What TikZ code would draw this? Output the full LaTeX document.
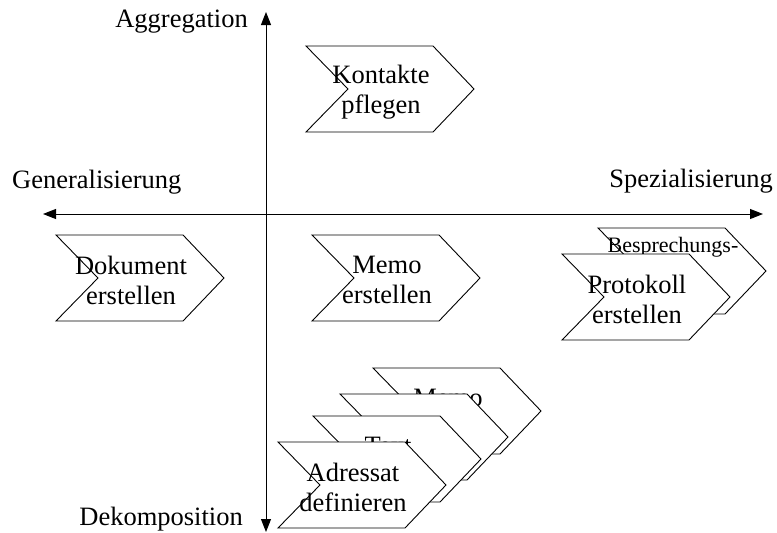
\documentclass[tikz,border=0pt]{standalone}
\usepackage{fontspec}
\setmainfont{Liberation Serif}
\usetikzlibrary{arrows.meta,calc}

\tikzset{
  axisline/.style={line width=1pt, {Triangle[length=13pt,width=10pt]}-{Triangle[length=13pt,width=10pt]}},
  chev/.style={draw, fill=white, line width=0.9pt, line join=miter},
  lbl/.style={inner sep=0pt, align=center, font=\fontsize{26.5}{30}\selectfont},
  smalllbl/.style={inner sep=0pt, align=center, font=\fontsize{22}{25}\selectfont},
  axlbl/.style={inner sep=0pt, font=\fontsize{26.5}{30}\selectfont},
}

% chevron with its top-left corner at (#2,#3); the corner is kept as coordinate #1
\newcommand\chevron[3]{%
  \draw[chev] (#2,#3) coordinate (#1) -- ++(127,0) -- ++(41,43) -- ++(-41,43)
    -- ++(-127,0) -- ++(42,-43) -- cycle;}

\begin{document}
\begin{tikzpicture}[x=1pt,y=-1pt]
  \useasboundingbox (0,0) rectangle (777,533);

  % axes
  \coordinate (vtop) at (266,12);
  \coordinate (vbot) at (266,532);
  \coordinate (hleft) at (43,214);
  \coordinate (hright) at (763,214);
  \draw[axisline] (vbot) -- (vtop);
  \draw[axisline] (hleft) -- (hright);

  \node[axlbl, anchor=base east] (agg) at (248,27) {Aggregation};
  \node[axlbl, anchor=base west] (gen) at (12,188) {Generalisierung};
  \node[axlbl, anchor=base east] (spe) at (773,187) {Spezialisierung};
  \node[axlbl, anchor=base east] (dek) at (243,525) {Dekomposition};

  % aggregation
  \chevron{kp}{306}{46}
  \node[lbl] (kp-t) at ($(kp)+(75,46)$) {Kontakte\\pflegen};

  % generalisation
  \chevron{de}{56}{235}
  \node[lbl] (de-t) at ($(de)+(75,45)$) {Dokument\\erstellen};

  % reference activity
  \chevron{me}{312}{235}
  \node[lbl] (me-t) at ($(me)+(75,45)$) {Memo\\erstellen};

  % specialisation
  \chevron{bp}{598}{228}
  \node[smalllbl, anchor=base] (bp-t) at ($(bp)+(75,24)$) {Besprechungs-};
  \chevron{pe}{562}{254}
  \node[lbl] (pe-t) at ($(pe)+(75,45)$) {Protokoll\\erstellen};

  % decomposition
  \chevron{d1}{373}{368}
  \node[lbl, anchor=base] (d1-t) at ($(d1)+(75,38)$) {Memo};
  \chevron{d2}{340}{394}
  \chevron{d3}{313}{416}
  \node[lbl, anchor=base] (d3-t) at ($(d3)+(75,38)$) {Text};
  \chevron{d4}{278}{442}
  \node[lbl] (d4-t) at ($(d4)+(75,45)$) {Adressat\\definieren};
\end{tikzpicture}
\end{document}
